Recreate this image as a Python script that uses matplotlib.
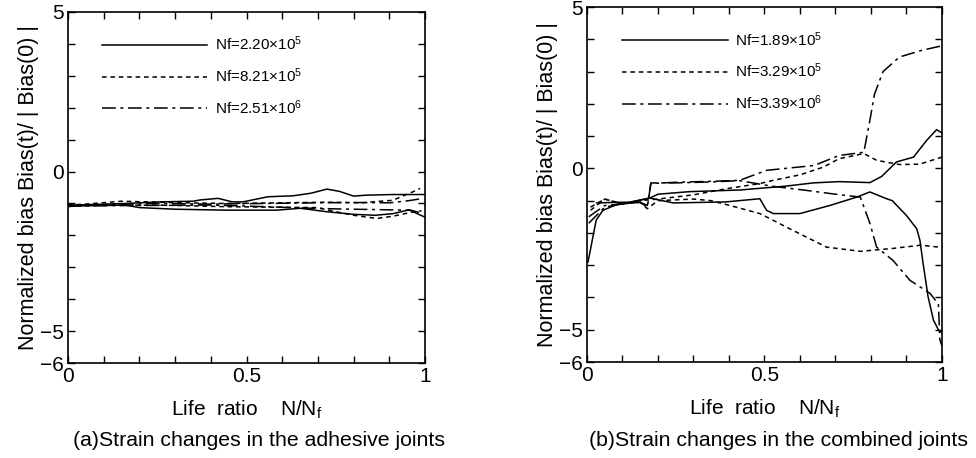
import matplotlib
matplotlib.use("Agg")
import matplotlib.pyplot as plt

plt.rcParams['font.family'] = ['Liberation Sans', 'DejaVu Sans']
plt.rcParams['mathtext.fontset'] = 'custom'
plt.rcParams['mathtext.rm'] = 'Liberation Sans'
plt.rcParams['mathtext.it'] = 'Liberation Sans:italic'
plt.rcParams['mathtext.bf'] = 'Liberation Sans:bold'

# (a) adhesive joints: two gauges per specimen
a_labels = ['Nf=2.20×10$^{5}$', 'Nf=8.21×10$^{5}$', 'Nf=2.51×10$^{6}$']
a_solid_up_x = [0.0, 0.02, 0.16, 0.26, 0.35, 0.37, 0.42, 0.46, 0.49, 0.56, 0.63, 0.68, 0.725, 0.76, 0.80, 0.835, 0.91, 0.99, 1.0]
a_solid_up_y = [-1.05, -1.05, -1.0, -0.95, -0.93, -0.89, -0.84, -0.95, -0.95, -0.79, -0.76, -0.68, -0.55, -0.62, -0.77, -0.74, -0.72, -0.72, -0.72]
a_solid_dn_x = [0.0, 0.02, 0.16, 0.2, 0.3, 0.44, 0.585, 0.65, 0.725, 0.8, 0.86, 0.91, 0.955, 0.986, 1.0]
a_solid_dn_y = [-1.1, -1.08, -1.05, -1.13, -1.18, -1.21, -1.21, -1.15, -1.26, -1.34, -1.37, -1.32, -1.2, -1.36, -1.43]
a_dot_up_x = [0.0, 0.05, 0.15, 0.25, 0.33, 0.44, 0.6, 0.725, 0.82, 0.91, 0.967, 0.986]
a_dot_up_y = [-1.05, -1.02, -0.93, -0.96, -0.98, -1.0, -0.98, -0.96, -0.98, -0.9, -0.63, -0.53]
a_dot_dn_x = [0.0, 0.1, 0.25, 0.44, 0.6, 0.7, 0.725, 0.8, 0.865, 0.91, 0.96, 0.99]
a_dot_dn_y = [-1.08, -1.06, -1.05, -1.1, -1.12, -1.13, -1.2, -1.37, -1.47, -1.4, -1.28, -1.23]
a_dd_up_x = [0.0, 0.1, 0.25, 0.4, 0.55, 0.7, 0.8, 0.9, 0.95, 0.99]
a_dd_up_y = [-1.08, -1.04, -1.0, -1.02, -1.0, -0.98, -0.97, -0.98, -0.92, -0.85]
a_dd_dn_x = [0.0, 0.1, 0.25, 0.4, 0.55, 0.65, 0.75, 0.9, 0.96, 0.99]
a_dd_dn_y = [-1.06, -1.07, -1.06, -1.05, -1.1, -1.14, -1.17, -1.2, -1.21, -1.3]

# (b) combined joints
b_labels = ['Nf=1.89×10$^{5}$', 'Nf=3.29×10$^{5}$', 'Nf=3.39×10$^{6}$']
b_solid_up_x = [0.003, 0.026, 0.045, 0.088, 0.12, 0.177, 0.2, 0.29, 0.43, 0.506, 0.56, 0.637, 0.71, 0.797, 0.83, 0.872, 0.92, 0.957, 0.985, 1.0]
b_solid_up_y = [-2.9, -1.6, -1.3, -1.1, -1.05, -0.92, -0.8, -0.72, -0.67, -0.6, -0.55, -0.45, -0.41, -0.44, -0.25, 0.2, 0.35, 0.87, 1.2, 1.1]
b_solid_dn_x = [0.027, 0.088, 0.12, 0.177, 0.243, 0.39, 0.487, 0.506, 0.525, 0.6, 0.684, 0.76, 0.797, 0.844, 0.86, 0.9, 0.929, 0.938, 0.947, 0.961, 0.976, 0.99, 1.0]
b_solid_dn_y = [-1.07, -1.05, -1.05, -0.92, -1.07, -1.04, -0.94, -1.3, -1.4, -1.4, -1.15, -0.89, -0.73, -0.94, -1.0, -1.46, -1.87, -2.23, -2.95, -3.98, -4.7, -5.0, -5.1]
b_dot_up_x = [0.01, 0.05, 0.1, 0.15, 0.2, 0.3, 0.393, 0.487, 0.525, 0.6, 0.666, 0.71, 0.78, 0.816, 0.88, 0.937, 1.0]
b_dot_up_y = [-1.3, -0.95, -1.1, -1.0, -0.95, -0.82, -0.63, -0.47, -0.37, -0.2, 0.04, 0.3, 0.46, 0.25, 0.12, 0.13, 0.35]
b_dot_dn_x = [0.01, 0.05, 0.1, 0.15, 0.17, 0.2, 0.3, 0.35, 0.42, 0.487, 0.58, 0.675, 0.77, 0.862, 0.94, 1.0]
b_dot_dn_y = [-1.2, -0.95, -1.1, -1.05, -1.25, -1.0, -0.95, -1.0, -1.2, -1.4, -1.92, -2.44, -2.57, -2.48, -2.38, -2.45]
b_dd_up_x = [0.005, 0.05, 0.1, 0.15, 0.17, 0.18, 0.25, 0.35, 0.43, 0.506, 0.64, 0.71, 0.78, 0.797, 0.81, 0.834, 0.88, 0.94, 1.0]
b_dd_up_y = [-1.7, -1.2, -1.1, -1.05, -1.2, -0.47, -0.43, -0.4, -0.37, -0.06, 0.09, 0.4, 0.5, 1.49, 2.3, 3.0, 3.45, 3.65, 3.8]
b_dd_dn_x = [0.005, 0.05, 0.1, 0.15, 0.17, 0.18, 0.25, 0.35, 0.43, 0.52, 0.61, 0.7, 0.77, 0.797, 0.816, 0.862, 0.91, 0.966, 0.99, 0.994, 1.0]
b_dd_dn_y = [-1.5, -1.15, -1.1, -1.05, -1.15, -0.45, -0.45, -0.42, -0.38, -0.55, -0.67, -0.8, -0.89, -1.7, -2.44, -2.85, -3.47, -3.87, -4.2, -5.3, -5.5]

xticks = [i / 10 for i in range(11)]
xticklabels = ['0', '', '', '', '', '0.5', '', '', '', '', '1']
yticks = list(range(-6, 6))
yticklabels = ['\u22126', '\u22125', '', '', '', '', '0', '', '', '', '', '5']

ylabel = 'Normalized bias Bias(t)/ | Bias(0) |'
xlabel = 'Life  ratio    N/N$_\\mathrm{f}$'

solid = '-'
dotted = (0, (3, 2.5))
dashdot = (0, (9, 3, 2, 3))

fig = plt.figure(figsize=(9.76, 4.58), dpi=100)
ax1 = fig.add_axes([0.0697, 0.2074, 0.3658, 0.7664])
ax2 = fig.add_axes([0.6014, 0.2096, 0.3637, 0.7750])


def draw(ax, series, labels, leg_x, leg_y, caption, cap_x):
    handles = []
    for (xs, ys, style), k in zip(series, range(6)):
        ln, = ax.plot(xs, ys, color='black', lw=1.1, linestyle=style)
        if k % 2 == 0:
            handles.append(ln)
    ax.set_xlim(0, 1)
    ax.set_ylim(-6, 5)
    ax.set_xticks(xticks)
    ax.set_xticklabels(xticklabels, fontsize=15)
    ax.set_yticks(yticks)
    ax.set_yticklabels(yticklabels, fontsize=15)
    ax.tick_params(direction='in', top=True, right=True, length=5, width=1, pad=3)
    for s in ax.spines.values():
        s.set_linewidth(1.2)
    ax.set_ylabel(ylabel, fontsize=15.5, labelpad=1)
    ax.set_xlabel(xlabel, fontsize=15, labelpad=9)
    ax.legend(handles, labels, loc='upper left', bbox_to_anchor=(leg_x, leg_y),
              frameon=False, fontsize=11, handlelength=6.9, handletextpad=0.5,
              labelspacing=0.85, borderpad=0, borderaxespad=0)
    ax.text(cap_x, -0.22, caption, transform=ax.transAxes, ha='center', va='center', fontsize=15.3)


draw(ax1,
     [(a_solid_up_x, a_solid_up_y, solid), (a_solid_dn_x, a_solid_dn_y, solid),
      (a_dot_up_x, a_dot_up_y, dotted), (a_dot_dn_x, a_dot_dn_y, dotted),
      (a_dd_up_x, a_dd_up_y, dashdot), (a_dd_dn_x, a_dd_dn_y, dashdot)],
     a_labels, 0.095, 0.935, '(a)Strain changes in the adhesive joints', 0.535)
draw(ax2,
     [(b_solid_up_x, b_solid_up_y, solid), (b_solid_dn_x, b_solid_dn_y, solid),
      (b_dot_up_x, b_dot_up_y, dotted), (b_dot_dn_x, b_dot_dn_y, dotted),
      (b_dd_up_x, b_dd_up_y, dashdot), (b_dd_dn_x, b_dd_dn_y, dashdot)],
     b_labels, 0.099, 0.935, '(b)Strain changes in the combined joints', 0.54)

fig.savefig('out.png', dpi=100)
